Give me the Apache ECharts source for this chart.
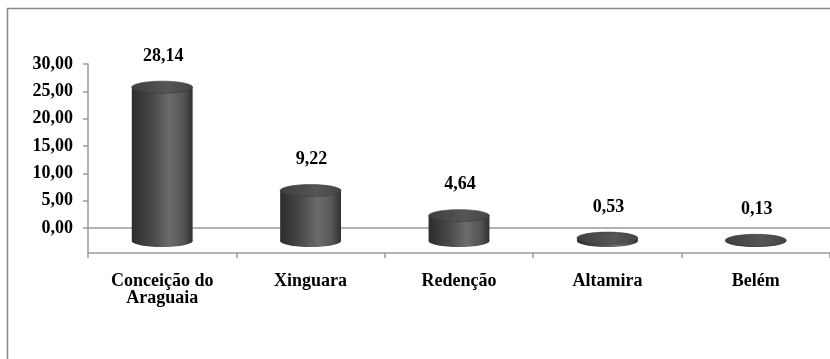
<!DOCTYPE html>
<html>
<head>
<meta charset="utf-8">
<script src="https://cdn.jsdelivr.net/npm/echarts@6/dist/echarts.min.js"></script>
<style>
  html, body { margin: 0; padding: 0; background: #ffffff; }
  #chart { width: 830px; height: 359px; }
</style>
</head>
<body>
<div id="chart"></div>
<script>
// Municipalities and their values
const categories = ['Conceição do\nAraguaia', 'Xinguara', 'Redenção', 'Altamira', 'Belém'];
const values = [28.14, 9.22, 4.64, 0.53, 0.13];
// Value axis range
const yMin = 0;
const yMax = 30;
const yStep = 5;

const fmt = v => v.toFixed(2).replace('.', ',');
const FONT = '"Liberation Serif", "Times New Roman", serif';
const AXIS = '#9a9a9a';
const DEPTH = 13;   // cylinders sit on the front edge of the floor

const chart = echarts.init(document.getElementById('chart'), null, { renderer: 'canvas' });

function renderCylinder(params, api) {
  const i = api.value(0);
  const v = api.value(1);
  const base = api.coord([i, 0]);
  const top = api.coord([i, v]);
  const band = api.size([1, 0])[0];
  const rx = band * 0.205;
  const ry = 6;
  const cx = base[0];
  const yb = base[1] + DEPTH;
  const yt = top[1] + DEPTH;
  const side = new echarts.graphic.LinearGradient(0, 0, 1, 0, [
    { offset: 0, color: '#2c2c2c' },
    { offset: 0.35, color: '#4a4a4a' },
    { offset: 0.62, color: '#6c6c6c' },
    { offset: 0.85, color: '#555555' },
    { offset: 1, color: '#303030' }
  ]);
  const cap = new echarts.graphic.LinearGradient(0, 0, 1, 0, [
    { offset: 0, color: '#3e3e3e' },
    { offset: 0.6, color: '#565656' },
    { offset: 1, color: '#444444' }
  ]);
  return {
    type: 'group',
    children: [
      { type: 'ellipse', shape: { cx: cx, cy: yb, rx: rx, ry: ry }, style: { fill: side } },
      { type: 'rect', shape: { x: cx - rx, y: yt, width: 2 * rx, height: Math.max(0, yb - yt) }, style: { fill: side } },
      { type: 'ellipse', shape: { cx: cx, cy: yt, rx: rx, ry: ry }, style: { fill: cap, stroke: '#3a3a3a', lineWidth: 0.6 } },
      {
        type: 'text',
        style: {
          text: fmt(v), x: cx + 1, y: yt - 31,
          align: 'center', verticalAlign: 'middle',
          font: 'bold 18px ' + FONT, fill: '#000000'
        }
      }
    ]
  };
}

chart.setOption({
  animation: false,
  backgroundColor: '#ffffff',
  graphic: [{
    type: 'rect',
    shape: { x: 7.5, y: 8.5, width: 900, height: 400 },
    style: { fill: 'none', stroke: '#888888', lineWidth: 1.5 },
    z: -10
  }],
  grid: [
    { left: 88, right: -6, top: 64, bottom: 131 },
    { left: 88, right: -6, top: 64, bottom: 106 }
  ],
  xAxis: [
    {
      gridIndex: 0, type: 'category', data: categories,
      axisLine: { show: true, lineStyle: { color: AXIS, width: 1.5 } },
      axisTick: { show: false }, axisLabel: { show: false }, splitLine: { show: false }
    },
    {
      gridIndex: 1, type: 'category', data: categories,
      axisLine: { show: true, lineStyle: { color: AXIS, width: 1.5 } },
      axisTick: { show: true, length: 5, lineStyle: { color: AXIS, width: 1.5 } },
      axisLabel: {
        margin: 20, color: '#000000', fontFamily: FONT, fontWeight: 'bold',
        fontSize: 18, lineHeight: 17, interval: 0
      },
      splitLine: { show: false }
    }
  ],
  yAxis: [
    {
      gridIndex: 0, type: 'value', min: yMin, max: yMax, interval: yStep,
      axisLine: { show: false },
      axisTick: { show: true, length: 5, lineStyle: { color: AXIS, width: 1.5 } },
      axisLabel: {
        formatter: fmt, margin: 15, color: '#000000',
        fontFamily: FONT, fontWeight: 'bold', fontSize: 18
      },
      splitLine: { show: false }
    },
    {
      gridIndex: 1, type: 'value',
      axisLine: { show: true, lineStyle: { color: AXIS, width: 1.5 } },
      axisTick: { show: false }, axisLabel: { show: false }, splitLine: { show: false }
    }
  ],
  series: [{
    type: 'custom',
    xAxisIndex: 0, yAxisIndex: 0,
    clip: false,
    renderItem: renderCylinder,
    encode: { x: 0, y: 1 },
    data: values.map((v, i) => [i, v]),
    z: 5
  }]
});
</script>
</body>
</html>
